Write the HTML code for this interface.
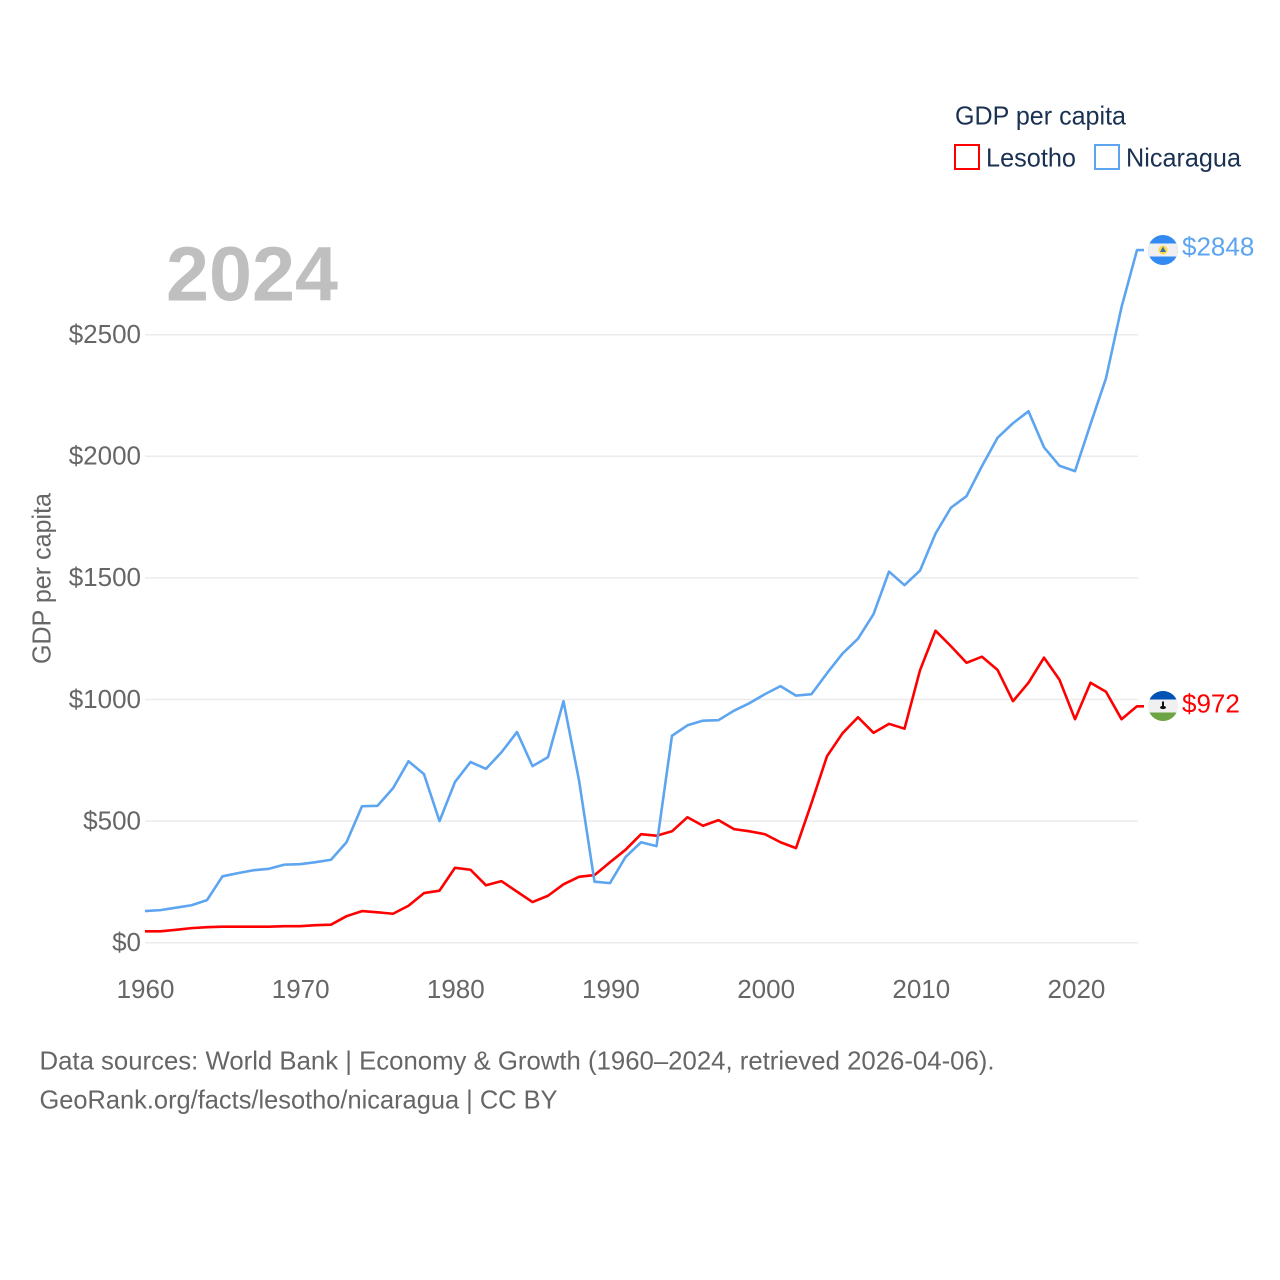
<!DOCTYPE html>
<html lang="en">
<head>
<meta charset="utf-8">
<title>GDP per capita: Lesotho and Nicaragua</title>
<style>
  html, body { margin: 0; padding: 0; background: #ffffff; }
  svg { display: block; font-family: "Liberation Sans", sans-serif; }
</style>
</head>
<body>
<svg id="chart" width="1280" height="1280" viewBox="0 0 1280 1280" xmlns="http://www.w3.org/2000/svg">
  <defs>
    <clipPath id="flag-clip-nic"><circle cx="1163" cy="250" r="15"></circle></clipPath>
    <clipPath id="flag-clip-lso"><circle cx="1163" cy="706" r="15"></circle></clipPath>
  </defs>
  <g id="grid"></g>
  <g id="y-ticks" fill="#666666" font-size="26" text-anchor="end"></g>
  <g id="x-ticks" fill="#666666" font-size="26" text-anchor="middle"></g>

  <text x="166" y="300.5" font-size="77" font-weight="700" fill="#bfbfbf" textLength="172" lengthAdjust="spacingAndGlyphs">2024</text>
  <text transform="translate(50.5 664) rotate(-90)" font-size="26" fill="#666666" textLength="171" lengthAdjust="spacingAndGlyphs">GDP per capita</text>

  <g id="series"></g>

  <g id="flag-nicaragua">
    <g clip-path="url(#flag-clip-nic)">
      <rect x="1148" y="235" width="30" height="30" fill="#338af3"></rect>
      <rect x="1148" y="243.5" width="30" height="13" fill="#f0f0f0"></rect>
      <circle cx="1163" cy="250" r="4.5" fill="#ffda44"></circle>
      <polygon points="1163,246.5 1166,252 1160,252" fill="#3f6fa8"></polygon>
    </g>
  </g>
  <g id="flag-lesotho">
    <g clip-path="url(#flag-clip-lso)">
      <rect x="1148" y="691" width="30" height="31" fill="#f0f0f0"></rect>
      <rect x="1148" y="691" width="30" height="8.5" fill="#0052b4"></rect>
      <rect x="1148" y="712.5" width="30" height="9.5" fill="#6da544"></rect>
      <rect x="1162" y="701.5" width="2" height="5" fill="#111111"></rect>
      <ellipse cx="1163" cy="707.5" rx="3" ry="1.6" fill="#111111"></ellipse>
    </g>
  </g>

  <text id="end-label-nicaragua" x="1182" y="255.5" font-size="26" fill="#5da5f0"></text>
  <text id="end-label-lesotho" x="1182" y="712.5" font-size="26" fill="#ff0000"></text>

  <g>
    <text x="955" y="124.5" font-size="26" fill="#1a3152" textLength="171" lengthAdjust="spacingAndGlyphs">GDP per capita</text>
    <rect x="955" y="145" width="24" height="24" fill="none" stroke="#ff0000" stroke-width="2"></rect>
    <text x="986" y="166.5" font-size="26" fill="#1a3152" textLength="90" lengthAdjust="spacingAndGlyphs">Lesotho</text>
    <rect x="1095" y="145" width="24" height="24" fill="none" stroke="#5da5f0" stroke-width="2"></rect>
    <text x="1126" y="166.5" font-size="26" fill="#1a3152" textLength="115" lengthAdjust="spacingAndGlyphs">Nicaragua</text>
  </g>

  <g fill="#666666" font-size="26">
    <text x="39.5" y="1069.5" textLength="955" lengthAdjust="spacingAndGlyphs">Data sources: World Bank | Economy &amp; Growth (1960–2024, retrieved 2026-04-06).</text>
    <text x="39.5" y="1108.5" textLength="518" lengthAdjust="spacingAndGlyphs">GeoRank.org/facts/lesotho/nicaragua | CC BY</text>
  </g>
</svg>
<script>
const startYear = 1960;
const xTickYears = [1960, 1970, 1980, 1990, 2000, 2010, 2020];
const yTickValues = [0, 500, 1000, 1500, 2000, 2500];
const lesothoValues = [47, 47, 53, 60, 64, 66, 66, 66, 66, 68, 68, 72, 74, 109, 130, 125, 119, 152, 204, 214, 308, 300, 236, 253, 210, 167, 193, 240, 271, 278, 331, 382, 446, 440, 458, 516, 481, 504, 467, 458, 446, 413, 389, 574, 767, 861, 927, 863, 900, 880, 1120, 1283, 1219, 1151, 1176, 1122, 993, 1069, 1172, 1081, 919, 1069, 1032, 919, 972];
const nicaraguaValues = [130, 134, 144, 154, 175, 273, 286, 298, 304, 321, 323, 331, 341, 413, 561, 563, 635, 746, 693, 500, 661, 743, 715, 783, 866, 726, 763, 993, 668, 251, 245, 352, 413, 397, 851, 894, 913, 915, 954, 985, 1022, 1055, 1016, 1022, 1108, 1189, 1250, 1351, 1526, 1470, 1530, 1682, 1789, 1836, 1960, 2076, 2136, 2185, 2037, 1961, 1939, 2132, 2321, 2613, 2848];

const NS = 'http://www.w3.org/2000/svg';
function xScale(year) { return 145 + (year - 1960) * 15.5; }
function yScale(value) { return 942.7 - value * 0.2432; }
function tickX(year) { return 145.5 + (year - 1960) * 15.516; }

const grid = document.getElementById('grid');
const yTicks = document.getElementById('y-ticks');
yTickValues.forEach(function (v) {
  const line = document.createElementNS(NS, 'line');
  
  
  line.setAttribute('x1', 145);
  line.setAttribute('x2', 1138);
  line.setAttribute('y1', yScale(v));
  line.setAttribute('y2', yScale(v));
  line.setAttribute('stroke', '#ebebeb');
  line.setAttribute('stroke-width', '1.5');
  grid.appendChild(line);
  const t = document.createElementNS(NS, 'text');
  
  
  t.setAttribute('x', 141);
  t.setAttribute('y', yScale(v) + 8.3);
  t.textContent = '$' + v;
  yTicks.appendChild(t);
});

const xTicks = document.getElementById('x-ticks');
xTickYears.forEach(function (year) {
  const t = document.createElementNS(NS, 'text');
  
  
  t.setAttribute('x', tickX(year));
  t.setAttribute('y', 998);
  t.textContent = String(year);
  xTicks.appendChild(t);
});

function drawSeries(values, color, labelId) {
  const pts = values.map(function (v, i) {
    return xScale(startYear + i).toFixed(2) + ',' + yScale(v).toFixed(2);
  });
  const last = values[values.length - 1];
  const lastX = xScale(startYear + values.length - 1);
  pts.push((lastX + 7).toFixed(2) + ',' + yScale(last).toFixed(2));
  const line = document.createElementNS(NS, 'polyline');
  
  
  line.setAttribute('points', pts.join(' '));
  line.setAttribute('fill', 'none');
  line.setAttribute('stroke', color);
  line.setAttribute('stroke-width', '2.6');
  line.setAttribute('stroke-linejoin', 'round');
  document.getElementById('series').appendChild(line);
  document.getElementById(labelId).textContent = '$' + last;
}
drawSeries(lesothoValues, '#ff0000', 'end-label-lesotho');
drawSeries(nicaraguaValues, '#5da5f0', 'end-label-nicaragua');
</script>
</body>
</html>
